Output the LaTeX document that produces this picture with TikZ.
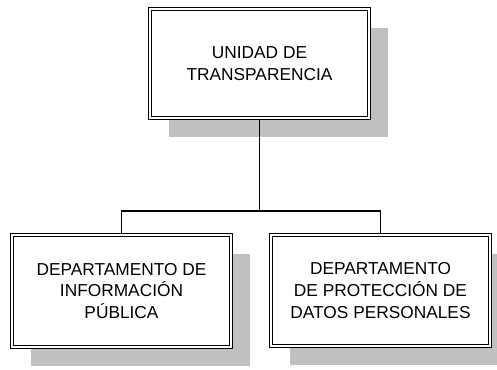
\documentclass[tikz,border=0pt]{standalone}
\usepackage{fontspec}
\setmainfont{Liberation Sans}
\usetikzlibrary{shadows}

\definecolor{shadowgray}{HTML}{C0C0C0}

\tikzset{
	unitbox/.style={rectangle,draw,double,line width=1.4pt,double distance=1.5pt,fill=white,
		minimum width=218.7pt,align=center,
		font=\fontsize{17.3}{21.6}\selectfont,
		drop shadow={shadow xshift=19pt,shadow yshift=-19pt,fill=shadowgray,opacity=1}},
	link/.style={line width=1.5pt}
}

\begin{document}
\begin{tikzpicture}[x=1pt,y=-1pt]

	\useasboundingbox (0,0) rectangle (497,369);

	\node[unitbox,minimum height=108.7pt] (unidad) at (259.5,63.5) {UNIDAD DE\\TRANSPARENCIA};
	\node[unitbox,minimum height=111.7pt] (info) at (121.5,291) {DEPARTAMENTO DE\\INFORMACIÓN\\PÚBLICA};
	\node[unitbox,minimum height=110.7pt] (datos) at (380.5,290.5) {DEPARTAMENTO\\DE PROTECCIÓN DE\\DATOS PERSONALES};

	\coordinate (split) at (259.5,211);

	\draw[link] (unidad) -- (split);
	\draw[link] (split) -| (info);
	\draw[link] (split) -| (datos);

\end{tikzpicture}
\end{document}
